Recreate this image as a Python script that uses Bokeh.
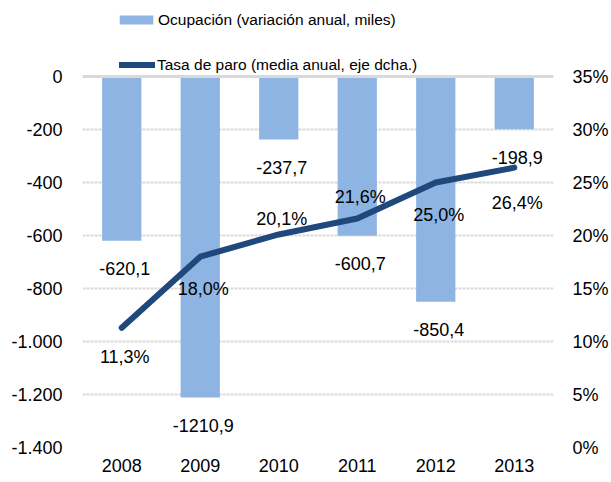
from bokeh.plotting import figure
from bokeh.models import (ColumnDataSource, FactorRange, Range1d, LinearAxis, FixedTicker,
                          LabelSet, Legend, LegendItem, Span)
from bokeh.core.properties import value
from bokeh.embed import file_html
from bokeh.resources import INLINE

# ---- data ----
years = ["2008", "2009", "2010", "2011", "2012", "2013"]
ocupacion = [-620.1, -1210.9, -237.7, -600.7, -850.4, -198.9]
tasa_paro = [11.3, 18.0, 20.1, 21.6, 25.0, 26.4]
left_ticks = [0, -200, -400, -600, -800, -1000, -1200, -1400]
right_ticks = [0, 5, 10, 15, 20, 25, 30, 35]

# ---- styling / label placement ----
BAR = "#8DB4E2"
LINE = "#1F497D"
GRID = "#D9D9D9"
FONT = "Liberation Sans"
rate_label_dy = [-29, -32, 15, 22, -32, -35]

# layout (pixels)
W, H = 611, 482
FR_LEFT, FR_RIGHT = 82, 553      # plot area x extent
ZERO_Y, BOTTOM_Y = 76, 447        # y of 0 / -1400 gridlines
TOP_Y = 4                          # frame top (room for the legend inside it)

def es(v, dec=1):
    return f"{v:.{dec}f}".replace(".", ",")

def es_int(v):
    s = f"{abs(v):,d}".replace(",", ".")
    return ("-" if v < 0 else "") + s

src = ColumnDataSource(dict(
    x=years, y=ocupacion, rate=tasa_paro,
    bar_txt=[es(v) for v in ocupacion],
    rate_txt=[es(v) + "%" for v in tasa_paro],
    rate_dy=rate_label_dy,
))

ymin, ymax = left_ticks[-1], left_ticks[0]
rmin, rmax = right_ticks[0], right_ticks[-1]
extra = (ZERO_Y - TOP_Y) / (BOTTOM_Y - ZERO_Y)
p = figure(width=W, height=H, x_range=FactorRange(*years, range_padding=0),
           y_range=Range1d(ymin, ymax + extra * (ymax - ymin)),
           output_backend="svg", toolbar_location=None,
           min_border_left=FR_LEFT, min_border_right=W - FR_RIGHT,
           min_border_top=TOP_Y, min_border_bottom=H - BOTTOM_Y)
p.extra_y_ranges = {"rate": Range1d(rmin, rmax + extra * (rmax - rmin))}
p.outline_line_color = None
p.background_fill_color = "white"
p.border_fill_color = "white"

# grid
p.xgrid.visible = False
p.ygrid.ticker = FixedTicker(ticks=left_ticks)
p.ygrid.grid_line_color = GRID
p.ygrid.grid_line_width = 2
p.ygrid.grid_line_dash = "3 1"

bars = p.vbar(x="x", top="y", bottom=0, width=0.5, source=src, fill_color=BAR, line_color=None)
p.add_layout(Span(location=0, dimension="width", line_color=GRID, line_width=3))

p.add_layout(LabelSet(x="x", y="y", text="bar_txt", source=src, y_offset=-28, x_offset=3,
                      text_align="center", text_baseline="middle", text_font=value(FONT),
                      text_font_size="18px", text_color="black"))

line = p.line(x="x", y="rate", source=src, y_range_name="rate", line_color=LINE,
              line_width=6, line_cap="round", line_join="round")

p.add_layout(LabelSet(x="x", y="rate", text="rate_txt", source=src, y_range_name="rate",
                      y_offset="rate_dy", x_offset=3, text_align="center", text_baseline="middle",
                      text_font=value(FONT), text_font_size="18px", text_color="black"))

# axes
def style_axis(ax, size="18px"):
    ax.axis_line_color = None
    ax.major_tick_line_color = None
    ax.minor_tick_line_color = None
    ax.major_tick_out = 0
    ax.major_tick_in = 0
    ax.major_label_text_font = FONT
    ax.major_label_text_font_size = size
    ax.major_label_text_color = "black"

p.yaxis.ticker = FixedTicker(ticks=left_ticks)
p.yaxis.major_label_overrides = {t: es_int(t) for t in left_ticks}
style_axis(p.yaxis[0])
p.yaxis.major_label_standoff = 20

ax_r = LinearAxis(y_range_name="rate", ticker=FixedTicker(ticks=right_ticks))
ax_r.major_label_overrides = {t: f"{t}%" for t in right_ticks}
style_axis(ax_r)
ax_r.major_label_standoff = 19
p.add_layout(ax_r, "right")

style_axis(p.xaxis[0])
p.xaxis.major_label_standoff = 11

# legend inside the (extended) frame, two rows
def mk_legend(item, x_px, row_center_y, gw, gh, standoff):
    lg = Legend(items=[item], location=(x_px - FR_LEFT, BOTTOM_Y - row_center_y - gh / 2),
                orientation="vertical", padding=0, margin=0, spacing=0,
                border_line_color=None, background_fill_alpha=0,
                glyph_width=gw, glyph_height=gh, label_height=gh, label_standoff=standoff,
                label_text_font=FONT, label_text_font_size="15.5px", label_text_color="black")
    p.add_layout(lg, "center")

mk_legend(LegendItem(label="Ocupación (variación anual, miles)", renderers=[bars]), 115, 23, 42, 11, 1)
mk_legend(LegendItem(label="Tasa de paro (media anual, eje dcha.)", renderers=[line]), 119, 68, 36, 11, 2)

open("out.html", "w").write(file_html(p, INLINE))
